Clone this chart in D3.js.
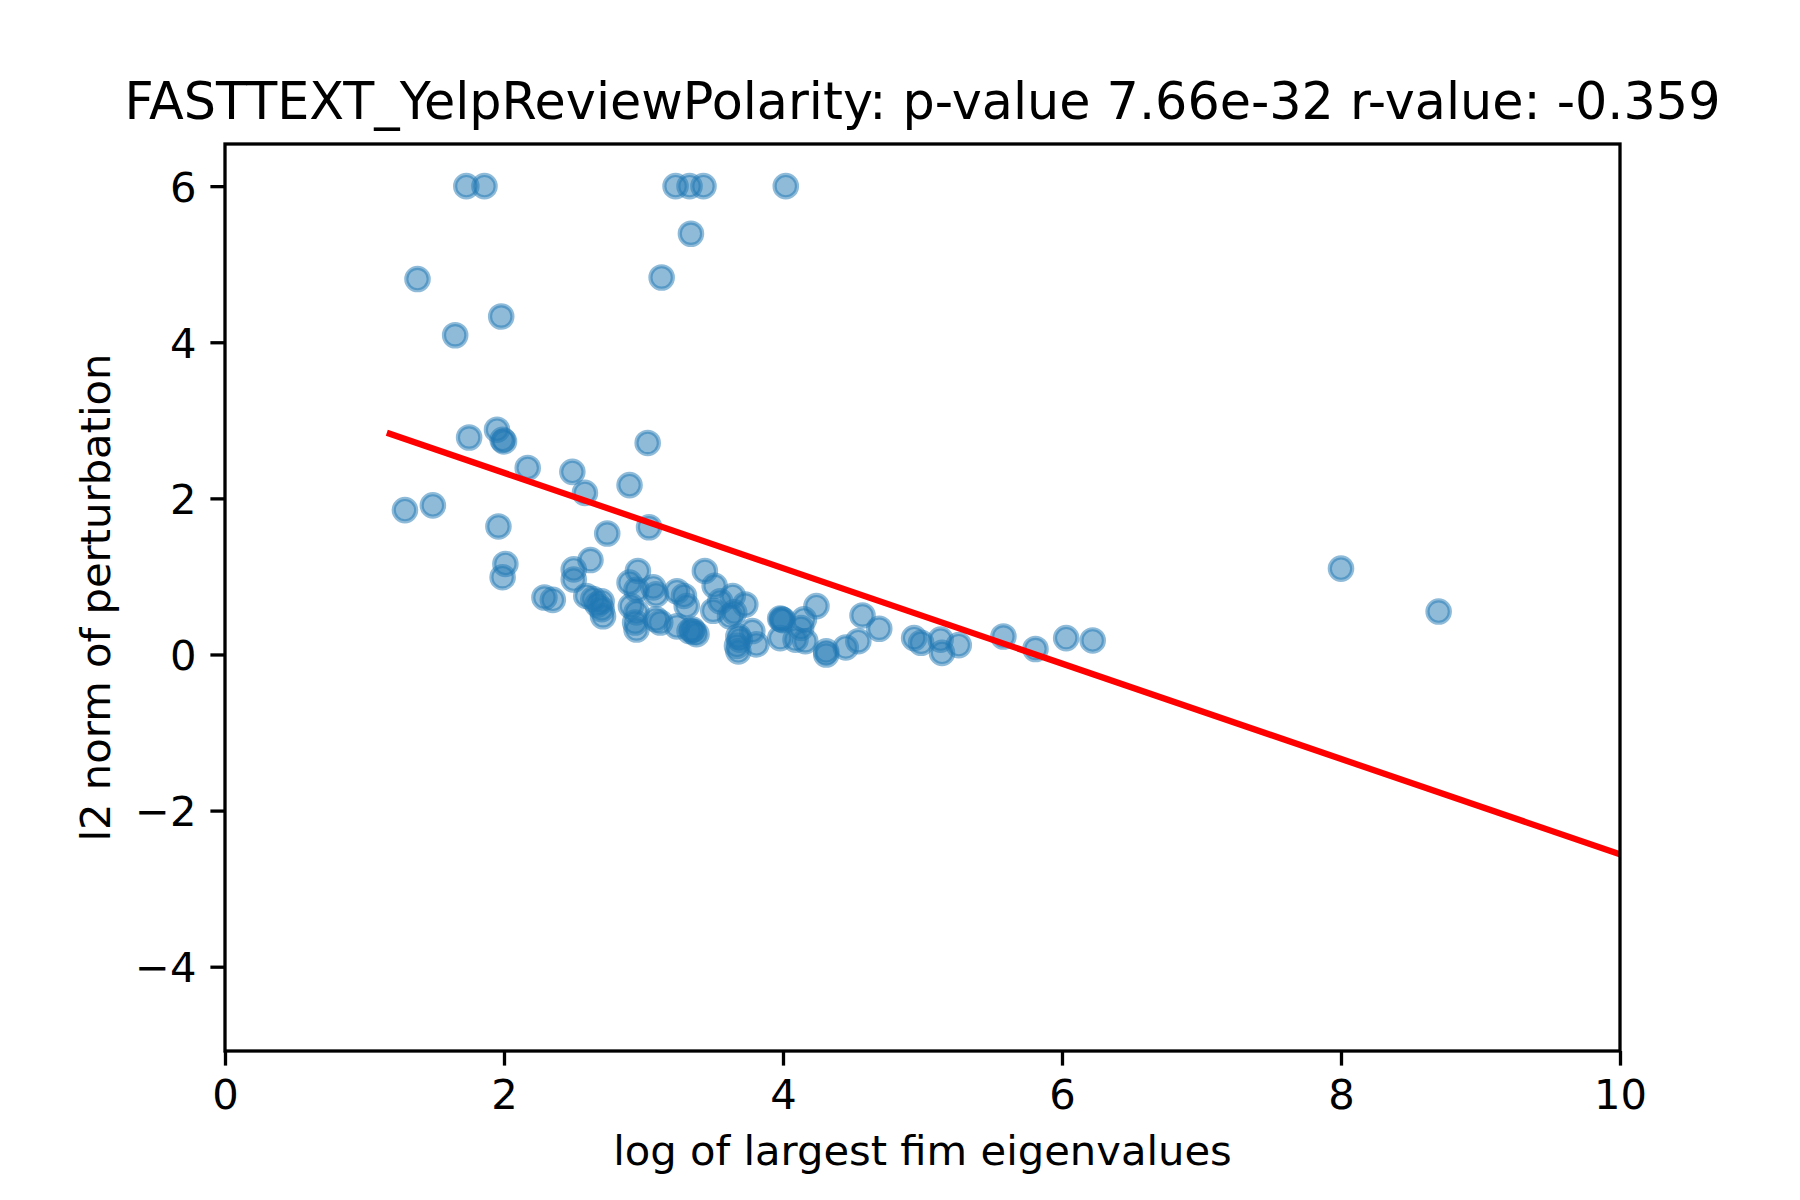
<!DOCTYPE html>
<html>
<head>
<meta charset="utf-8">
<script src="https://cdn.jsdelivr.net/npm/d3@7"></script>
<style>
  body { margin: 0; background: #fff; }
  text { font-family: "DejaVu Sans", sans-serif; fill: #000; }
</style>
</head>
<body>
<div id="chart"></div>
<script>
// Points: log of largest FIM eigenvalue vs l2 norm of perturbation
const xVals = [
  1.73, 1.86, 3.23, 3.33, 3.43, 4.02,
  3.34, 3.13, 1.38, 1.98, 1.65,
  1.75, 1.95, 1.99, 2.00, 2.17, 2.49, 2.58, 3.03, 2.90,
  1.29, 1.49, 1.96, 2.74, 3.04,
  2.01, 1.99, 2.62, 2.50, 2.50, 2.29, 2.35,
  2.59, 2.64, 2.70, 2.71, 2.70, 2.67,
  2.96, 2.90, 2.95, 3.07, 3.09, 2.91, 2.95, 2.94, 2.95, 3.09, 3.12,
  3.24, 3.29, 3.31, 3.24, 3.35, 3.36, 3.33, 3.38,
  3.44, 3.51, 3.55, 3.50, 3.64, 3.65, 3.67, 3.68,
  3.73, 3.78, 3.81, 3.69, 3.68, 3.62,
  3.99, 4.00, 3.98, 4.24, 4.15, 4.13, 3.98, 4.09, 4.16,
  4.31, 4.31, 4.45, 4.54, 4.57, 4.69, 4.94, 4.99,
  5.13, 5.14, 5.26, 5.58, 5.81, 6.03, 6.22,
  8.00, 8.70
];
const yVals = [
  6.00, 6.00, 6.00, 6.00, 6.00, 6.00,
  5.39, 4.83, 4.81, 4.33, 4.09,
  2.78, 2.88, 2.75, 2.73, 2.39, 2.34, 2.07, 2.71, 2.17,
  1.85, 1.91, 1.64, 1.55, 1.63,
  1.16, 0.99, 1.21, 1.09, 0.96, 0.73, 0.70,
  0.75, 0.71, 0.68, 0.49, 0.58, 0.64,
  1.07, 0.92, 0.83, 0.86, 0.77, 0.62, 0.54, 0.41, 0.32, 0.45, 0.41,
  0.81, 0.75, 0.62, 0.36, 0.32, 0.29, 0.30, 0.26,
  1.07, 0.88, 0.68, 0.56, 0.75, 0.54, 0.11, 0.23,
  0.64, 0.30, 0.13, 0.19, 0.04, 0.49,
  0.45, 0.44, 0.46, 0.62, 0.45, 0.34, 0.21, 0.19, 0.17,
  0.04, 0.00, 0.09, 0.17, 0.50, 0.33, 0.21, 0.15,
  0.19, 0.02, 0.12, 0.23, 0.07, 0.21, 0.18,
  1.10, 0.55
];

// Fitted regression line endpoints
const fitX = [1.16, 10];
const fitY = [2.84, -2.56];

const xTicks = [0, 2, 4, 6, 8, 10];
const yTicks = [-4, -2, 0, 2, 4, 6];

const titleText = 'FASTTEXT_YelpReviewPolarity: p-value 7.66e-32 r-value: -0.359';
const xLabel = 'log of largest fim eigenvalues';
const yLabel = 'l2 norm of perturbation';

const W = 1800, H = 1200;
const margin = { top: 144, right: 180, bottom: 149, left: 225 };
const width = W - margin.left - margin.right;
const height = H - margin.top - margin.bottom;

const svg = d3.select('#chart')
  .append('svg')
  .attr('width', W)
  .attr('height', H);

const g = svg.append('g')
  .attr('transform', `translate(${margin.left},${margin.top})`);

const x = d3.scaleLinear().domain([0, 10]).range([0, width]);
const y = d3.scaleLinear().domain([-5.08, 6.54]).range([height, 0]);

// clip for plot area
svg.append('defs').append('clipPath')
  .attr('id', 'plot-clip')
  .append('rect')
  .attr('width', width)
  .attr('height', height);

const fmt = d3.format('d');

// X axis
const xAxis = g.append('g')
  .attr('transform', `translate(0,${height})`)
  .call(d3.axisBottom(x).tickValues(xTicks).tickFormat(fmt).tickSize(14.6).tickPadding(14));
xAxis.select('.domain').remove();
xAxis.selectAll('line').attr('stroke', '#000').attr('stroke-width', 3.3);
xAxis.selectAll('text')
  .attr('dy', null)
  .attr('y', 58)
  .style('font-size', '41.7px')
  .style('font-family', '"DejaVu Sans", sans-serif');

// Y axis
const yAxis = g.append('g')
  .call(d3.axisLeft(y).tickValues(yTicks).tickFormat(fmt).tickSize(14.6).tickPadding(14));
yAxis.select('.domain').remove();
yAxis.selectAll('line').attr('stroke', '#000').attr('stroke-width', 3.3);
yAxis.selectAll('text')
  .attr('dy', '0.36em')
  .style('font-size', '41.7px')
  .style('font-family', '"DejaVu Sans", sans-serif');

// Scatter points
const points = d3.range(xVals.length).map(i => ({ x: xVals[i], y: yVals[i] }));
g.append('g')
  .attr('clip-path', 'url(#plot-clip)')
  .selectAll('circle')
  .data(points)
  .join('circle')
  .attr('cx', d => x(d.x))
  .attr('cy', d => y(d.y))
  .attr('r', 11.2)
  .attr('fill', '#1f77b4')
  .attr('fill-opacity', 0.5)
  .attr('stroke', '#1f77b4')
  .attr('stroke-opacity', 0.5)
  .attr('stroke-width', 4.2);

// Regression line
const fitPts = fitX.map((v, i) => [v, fitY[i]]);
g.append('path')
  .attr('clip-path', 'url(#plot-clip)')
  .attr('d', d3.line().x(d => x(d[0])).y(d => y(d[1]))(fitPts))
  .attr('fill', 'none')
  .attr('stroke', '#ff0000')
  .attr('stroke-width', 6.25);

// Frame
g.append('rect')
  .attr('width', width)
  .attr('height', height)
  .attr('fill', 'none')
  .attr('stroke', '#000')
  .attr('stroke-width', 3.3);

// Title
g.append('text')
  .attr('x', width / 2)
  .attr('y', -25)
  .attr('text-anchor', 'middle')
  .style('font-size', '50.8px')
  .text(titleText);

// Axis labels
g.append('text')
  .attr('x', width / 2)
  .attr('y', height + 114)
  .attr('text-anchor', 'middle')
  .style('font-size', '41.7px')
  .text(xLabel);

g.append('text')
  .attr('transform', `translate(${95 - margin.left + 15},${height / 2}) rotate(-90)`)
  .attr('text-anchor', 'middle')
  .style('font-size', '41.7px')
  .text(yLabel);
</script>
</body>
</html>
